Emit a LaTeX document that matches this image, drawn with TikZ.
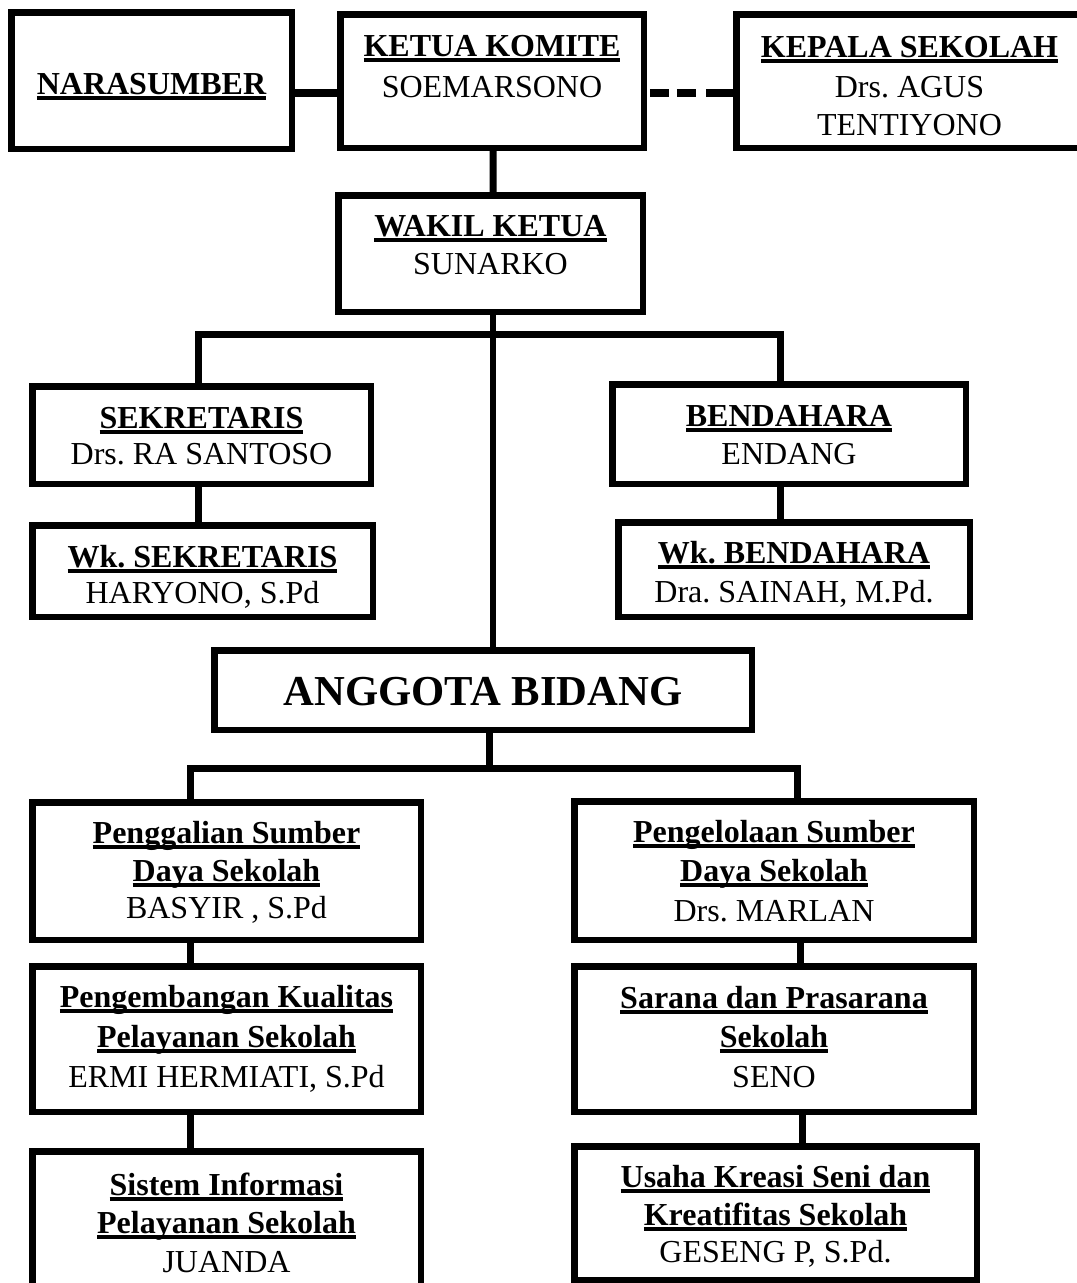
\documentclass[tikz,border=0pt]{standalone}
\usepackage{fontspec}
\setmainfont{Liberation Serif}
\frenchspacing
\newsavebox\ulbox
\newcommand\ulh[1]{\sbox\ulbox{\bfseries #1}\rlap{\rule[-4.3pt]{\wd\ulbox}{2.6pt}}\usebox\ulbox}
\newcommand\obox[5]{\node[orgbox, minimum width={(#4-#2-6.5)*0.75pt}, minimum height={(#5-#3-6.5)*0.75pt}] (#1) at ({(#2+#4)/2},{(#3+#5)/2}) {};}
\newcommand\txtline[4]{\node[txt] (#1) at (#2,#3) {#4};}
\tikzset{
  orgbox/.style={draw, rectangle, line width=4.875pt, fill=white, inner sep=0pt, outer sep=0pt},
  txt/.style={anchor=base, inner sep=0pt, outer sep=0pt, font=\fontsize{24}{28}\selectfont},
  bigtxt/.style={anchor=base, inner sep=0pt, outer sep=0pt, font=\fontsize{32}{36}\selectfont\bfseries},
  conn/.style={line width=5.25pt},
  midconn/.style={line width=4.5pt},
  topconn/.style={line width=6.5pt},
}
\begin{document}
\begin{tikzpicture}[x=0.75pt, y=-0.75pt]
\fill[white] (0,0) rectangle (1076,1283);
\useasboundingbox (0,0) rectangle (1076,1283);

% boxes (outer edges in px)
\obox{nara}{8}{9}{295}{152}
\obox{ketua}{337}{11}{647}{151}
\obox{kepala}{733}{11}{1086}{151}
\obox{wakil}{335}{192}{646}{315}
\obox{sek}{29}{383}{374}{487}
\obox{bend}{609}{381}{969}{487}
\obox{wksek}{29}{522}{376}{620}
\obox{wkbend}{615}{519}{973}{620}
\obox{anggota}{211}{647}{755}{733}
\obox{gali}{29}{799}{424}{943}
\obox{kelola}{571}{798}{977}{943}
\obox{kembang}{29}{963}{424}{1115}
\obox{sarana}{571}{963}{977}{1115}
\obox{sistem}{29}{1148}{424}{1300}
\obox{usaha}{571}{1143}{980}{1283}

% connectors
\coordinate (topy) at (0,93);
\draw[topconn] (nara.east |- topy) -- (ketua.west |- topy);
\draw[topconn, dash pattern={on 0pt off 4.5pt on 14.25pt off 6pt on 14.25pt off 8pt on 16pt}] (ketua.east |- topy) -- (kepala.west |- topy);
\draw[conn] ([xshift=0.75pt]ketua.south) -- ([xshift=1.9pt]wakil.north);

\coordinate (midx) at (493,0);
\draw[midconn] (wakil.south -| midx) -- (anggota.north -| midx);
\coordinate (dropL) at (198,334.5);
\coordinate (dropR) at (780,334.5);
\draw[conn] (sek.north -| dropL) -- (dropL) -- (dropR) -- (bend.north -| dropR);
\draw[conn] (sek.south -| dropL) -- (wksek.north -| dropL);
\draw[conn] (bend.south -| dropR) -- (wkbend.north -| dropR);

\coordinate (angx) at (489,0);
\coordinate (dropL2) at (190,768);
\coordinate (dropR2) at (797,768);
\draw[conn] (anggota.south -| angx) -- (dropL2 -| angx);
\draw[conn] (gali.north -| dropL2) -- (dropL2) -- (dropR2) -- (kelola.north -| dropR2);
\coordinate (lx) at (190,0);
\coordinate (rx1) at (800,0);
\coordinate (rx2) at (802,0);
\draw[conn] (gali.south -| lx) -- (kembang.north -| lx);
\draw[conn] (kembang.south -| lx) -- (sistem.north -| lx);
\draw[conn] (kelola.south -| rx1) -- (sarana.north -| rx1);
\draw[conn] (sarana.south -| rx2) -- (usaha.north -| rx2);

% texts
\txtline{naraT}{151.5}{94}{\ulh{NARASUMBER}}
\txtline{ketuaT1}{492}{56}{\ulh{KETUA KOMITE}}
\txtline{ketuaT2}{492}{97}{SOEMARSONO}
\txtline{kepalaT1}{909.5}{57}{\ulh{KEPALA SEKOLAH}}
\txtline{kepalaT2}{909.5}{97}{Drs. AGUS}
\txtline{kepalaT3}{909.5}{135}{TENTIYONO}
\txtline{wakilT1}{490.5}{236}{\ulh{WAKIL KETUA}}
\txtline{wakilT2}{490.5}{274}{SUNARKO}
\txtline{sekT1}{201.5}{428}{\ulh{SEKRETARIS}}
\txtline{sekT2}{201.5}{464}{Drs. RA SANTOSO}
\txtline{bendT1}{789}{426}{\ulh{BENDAHARA}}
\txtline{bendT2}{789}{464}{ENDANG}
\txtline{wksekT1}{202.5}{567}{\ulh{Wk. SEKRETARIS}}
\txtline{wksekT2}{202.5}{603}{HARYONO, S.Pd}
\txtline{wkbendT1}{794}{563}{\ulh{Wk. BENDAHARA}}
\txtline{wkbendT2}{794}{602}{Dra. SAINAH, M.Pd.}
\node[bigtxt] (anggotaT) at (483,705) {ANGGOTA BIDANG};
\txtline{galiT1}{226.5}{843}{\ulh{Penggalian Sumber}}
\txtline{galiT2}{226.5}{881}{\ulh{Daya Sekolah}}
\txtline{galiT3}{226.5}{918}{BASYIR , S.Pd}
\txtline{kelolaT1}{774}{842}{\ulh{Pengelolaan Sumber}}
\txtline{kelolaT2}{774}{881}{\ulh{Daya Sekolah}}
\txtline{kelolaT3}{774}{921}{Drs. MARLAN}
\txtline{kembangT1}{226.5}{1007}{\ulh{Pengembangan Kualitas}}
\txtline{kembangT2}{226.5}{1047}{\ulh{Pelayanan Sekolah}}
\txtline{kembangT3}{226.5}{1087}{ERMI HERMIATI, S.Pd}
\txtline{saranaT1}{774}{1008}{\ulh{Sarana dan Prasarana}}
\txtline{saranaT2}{774}{1047}{\ulh{Sekolah}}
\txtline{saranaT3}{774}{1087}{SENO}
\txtline{sistemT1}{226.5}{1195}{\ulh{Sistem Informasi}}
\txtline{sistemT2}{226.5}{1233}{\ulh{Pelayanan Sekolah}}
\txtline{sistemT3}{226.5}{1272}{JUANDA}
\txtline{usahaT1}{775.5}{1187}{\ulh{Usaha Kreasi Seni dan}}
\txtline{usahaT2}{775.5}{1225}{\ulh{Kreatifitas Sekolah}}
\txtline{usahaT3}{775.5}{1262}{GESENG P, S.Pd.}
\end{tikzpicture}
\end{document}
